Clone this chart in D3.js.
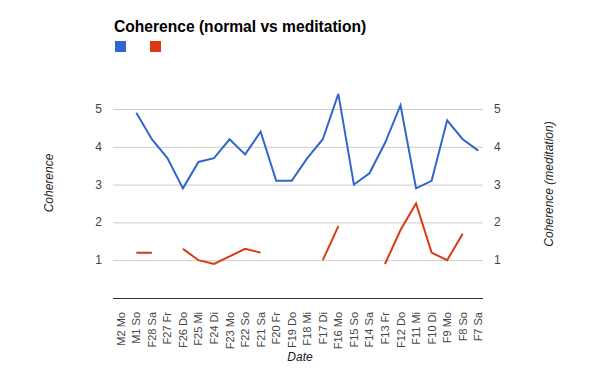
<!DOCTYPE html>
<html>
<head>
<meta charset="utf-8">
<script src="https://cdn.jsdelivr.net/npm/d3@7"></script>
<style>
  body { margin: 0; background: #fff; }
  text { font-family: "Liberation Sans", Arial, sans-serif; }
</style>
</head>
<body>
<div id="chart"></div>
<script>
const WIDTH = 596
const HEIGHT = 369

const MARGIN = {
    TOP: 109,
    BOTTOM: 71,
    LEFT: 113,
    RIGHT: 113
}

const dates = ["M2 Mo", "M1 So", "F28 Sa", "F27 Fr", "F26 Do", "F25 Mi", "F24 Di", "F23 Mo",
    "F22 So", "F21 Sa", "F20 Fr", "F19 Do", "F18 Mi", "F17 Di", "F16 Mo", "F15 So",
    "F14 Sa", "F13 Fr", "F12 Do", "F11 Mi", "F10 Di", "F9 Mo", "F8 So", "F7 Sa"]

const normal = [null, 4.9, 4.2, 3.7, 2.9, 3.6, 3.7, 4.2, 3.8, 4.4, 3.1, 3.1,
    3.7, 4.2, 5.4, 3.0, 3.3, 4.1, 5.1, 2.9, 3.1, 4.7, 4.2, 3.9]

const meditation = [null, 1.2, 1.2, null, 1.3, 1.0, 0.9, 1.1, 1.3, 1.2, null, null,
    null, 1.0, 1.9, null, null, 0.9, 1.8, 2.5, 1.2, 1.0, 1.7, null]

const yTicks = [1, 2, 3, 4, 5]

const BLUE = "#3366cc"
const RED = "#dc3912"

const svg = d3.select("#chart")
    .append("svg")
    .attr("width", WIDTH)
    .attr("height", HEIGHT)

const x = d3.scaleBand()
    .domain(dates)
    .range([MARGIN.LEFT, WIDTH - MARGIN.RIGHT + 3])

const yLeft = d3.scaleLinear()
    .domain([0, 5])
    .range([HEIGHT - MARGIN.BOTTOM, MARGIN.TOP])

const yRight = d3.scaleLinear()
    .domain([0, 5])
    .range([HEIGHT - MARGIN.BOTTOM, MARGIN.TOP])

const x0 = MARGIN.LEFT
const x1 = WIDTH - MARGIN.RIGHT

// title + legend
svg.append("text")
    .attr("x", 114)
    .attr("y", 32)
    .attr("font-size", 15.6)
    .attr("font-weight", "bold")
    .attr("fill", "#000")
    .text("Coherence (normal vs meditation)")

svg.selectAll("rect.legend")
    .data([BLUE, RED])
    .join("rect")
    .attr("class", "legend")
    .attr("x", (d, i) => 115 + i * 35)
    .attr("y", 41)
    .attr("width", 11)
    .attr("height", 11)
    .attr("fill", d => d)

// gridlines
svg.append("g")
    .selectAll("line")
    .data(yTicks)
    .join("line")
    .attr("x1", x0)
    .attr("x2", x1)
    .attr("y1", d => yLeft(d) + 0.5)
    .attr("y2", d => yLeft(d) + 0.5)
    .attr("stroke", "#cccccc")

svg.append("line")
    .attr("x1", x0)
    .attr("x2", x1)
    .attr("y1", yLeft(0) + 0.5)
    .attr("y2", yLeft(0) + 0.5)
    .attr("stroke", "#333")

// left ticks
svg.append("g")
    .attr("font-size", 12)
    .attr("fill", "#444")
    .attr("text-anchor", "end")
    .selectAll("text")
    .data(yTicks)
    .join("text")
    .attr("x", 102)
    .attr("y", d => yLeft(d) + 4)
    .text(d => d)

// right ticks
svg.append("g")
    .attr("font-size", 12)
    .attr("fill", "#444")
    .attr("text-anchor", "start")
    .selectAll("text")
    .data(yTicks)
    .join("text")
    .attr("x", 494)
    .attr("y", d => yRight(d) + 4)
    .text(d => d)

// x tick labels
svg.append("g")
    .attr("font-size", 11)
    .attr("fill", "#444")
    .attr("text-anchor", "end")
    .selectAll("text")
    .data(dates)
    .join("text")
    .attr("transform", d => `translate(${x(d) + x.bandwidth() / 2 + 4}, 312) rotate(-90)`)
    .text(d => d)

// axis titles
svg.append("text")
    .attr("transform", "translate(53, 183) rotate(-90)")
    .attr("text-anchor", "middle")
    .attr("font-size", 12)
    .attr("font-style", "italic")
    .attr("fill", "#222")
    .text("Coherence")

svg.append("text")
    .attr("transform", "translate(553, 184) rotate(-90)")
    .attr("text-anchor", "middle")
    .attr("font-size", 12)
    .attr("font-style", "italic")
    .attr("fill", "#222")
    .text("Coherence (meditation)")

svg.append("text")
    .attr("x", 300)
    .attr("y", 361)
    .attr("text-anchor", "middle")
    .attr("font-size", 12)
    .attr("font-style", "italic")
    .attr("fill", "#222")
    .text("Date")

// lines
const lineLeft = d3.line()
    .defined(d => d[1] !== null)
    .x(d => x(d[0]) + x.bandwidth() / 2)
    .y(d => yLeft(d[1]))

const lineRight = d3.line()
    .defined(d => d[1] !== null)
    .x(d => x(d[0]) + x.bandwidth() / 2)
    .y(d => yRight(d[1]))

svg.append("path")
    .datum(dates.map((d, i) => [d, normal[i]]))
    .attr("fill", "none")
    .attr("stroke", BLUE)
    .attr("stroke-width", 2)
    .attr("d", lineLeft)

svg.append("path")
    .datum(dates.map((d, i) => [d, meditation[i]]))
    .attr("fill", "none")
    .attr("stroke", RED)
    .attr("stroke-width", 2)
    .attr("d", lineRight)
</script>
</body>
</html>
